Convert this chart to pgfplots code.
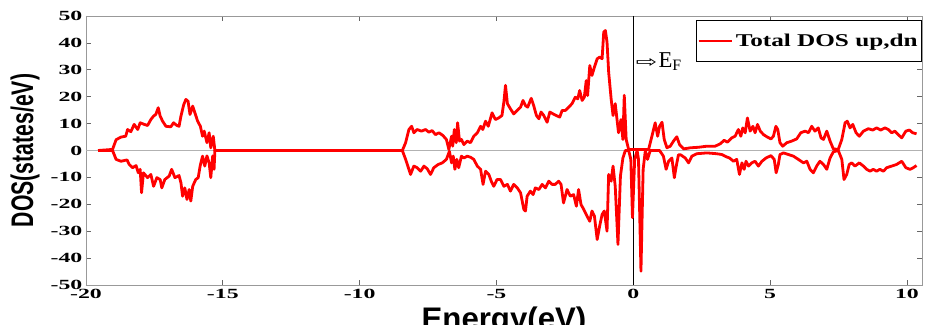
\documentclass[border=0pt]{standalone}
\usepackage{pgfplots}
\pgfplotsset{compat=1.18}
\usepackage{fontspec}
\usepackage{graphicx}
\setmainfont{Liberation Serif}
\setsansfont{Liberation Sans}
\newfontfamily\dejavu{DejaVu Sans}
\newcommand{\tl}[1]{\scalebox{1.7}[1]{\fontsize{10.5}{10.5}\selectfont\bfseries #1}}

\pgfplotstableread{
x y
-19.56 0
-19.03 0.4
-18.9 4
-18.72 5
-18.55 5.3
-18.48 7.8
-18.36 7
-18.24 9.7
-18.11 7.8
-18.02 10.3
-17.87 9.7
-17.75 9.3
-17.63 11.5
-17.53 12.8
-17.45 13.4
-17.36 15.9
-17.29 12.8
-17.2 10.9
-17.08 9.0
-16.9 8.8
-16.8 10.3
-16.68 9.3
-16.6 9
-16.53 12.8
-16.43 17
-16.35 19
-16.27 18.3
-16.2 13.4
-16.1 16.5
-16.02 14
-15.92 10.9
-15.82 9
-15.74 5.3
-15.68 7.2
-15.58 2.9
-15.5 6.6
-15.44 1
-15.35 5.3
-15.29 0
-8.44 0
-8.32 2.9
-8.2 7.8
-8.1 9
-8.02 6.6
-7.9 7.8
-7.74 7.2
-7.59 7.8
-7.47 6.8
-7.35 7.4
-7.23 5.9
-7.1 6.6
-6.96 5.6
-6.83 4.1
-6.74 0.4
-6.64 5.3
-6.6 1.6
-6.54 7.8
-6.47 2.9
-6.42 10.3
-6.35 3.5
-6.28 4.1
-6.19 2.2
-6.07 3.5
-5.95 2.9
-5.83 5.3
-5.7 6.6
-5.58 9
-5.5 7.8
-5.4 10.9
-5.3 9
-5.16 14
-5.04 11.5
-4.92 12.1
-4.8 13
-4.73 18
-4.67 24.2
-4.6 17.4
-4.49 15.5
-4.37 13.6
-4.24 14.9
-4.12 16.1
-4.03 18.6
-3.94 16.7
-3.86 16.1
-3.73 19.4
-3.64 16.7
-3.54 13
-3.45 11.8
-3.37 14.3
-3.27 13
-3.15 10.5
-3.05 14.3
-2.93 13.6
-2.81 13
-2.69 12.4
-2.6 14.9
-2.48 14.9
-2.36 16.1
-2.24 17.4
-2.12 19.8
-2.03 19.2
-1.96 22.3
-1.87 18.6
-1.79 19.8
-1.72 26
-1.67 20.4
-1.59 31.6
-1.51 27.9
-1.42 31
-1.32 34.1
-1.23 34.7
-1.14 34.1
-1.08 44
-1.02 44.6
-0.96 40.3
-0.9 29.1
-0.81 19.2
-0.74 13
-0.66 17.4
-0.6 12
-0.54 6.6
-0.45 11.5
-0.38 4.1
-0.33 20.5
-0.26 4.1
-0.17 0.4
0.56 0.4
0.68 5.3
0.8 10.3
0.89 5.3
0.96 9
1.05 10.5
1.13 4.1
1.23 1
1.35 1.6
1.47 3.5
1.59 5.1
1.69 2.2
1.84 0.6
2.08 1
2.38 1.2
2.69 1.6
2.99 1.6
3.18 2.5
3.32 3.8
3.44 3.1
3.6 4.7
3.72 5.3
3.84 7.8
3.93 5.3
4.0 8.4
4.09 6.6
4.17 12.1
4.27 7.2
4.37 9
4.45 6.6
4.54 9.7
4.64 7.2
4.76 5.9
4.88 5.1
5.03 4.3
5.12 5.3
5.21 9
5.28 7.8
5.36 2.9
5.46 1.6
5.61 2.9
5.79 3.5
5.97 4.3
6.12 6.6
6.28 7.2
6.4 6.6
6.52 9
6.64 7.2
6.76 8.4
6.86 4.7
6.95 4.1
7.07 7.2
7.19 3.5
7.31 0.6
7.49 0.4
7.62 4.1
7.74 10.3
7.82 10.9
7.92 8.4
8.02 9.7
8.14 6.6
8.26 5.3
8.41 7.2
8.59 8.1
8.75 7.6
8.89 8.4
9.04 7.6
9.2 8.4
9.32 7.8
9.44 6.6
9.56 7.2
9.68 5.9
9.81 4.7
9.96 7.2
10.09 7.6
10.21 6.6
10.35 6.2
}\dosup

\pgfplotstableread{
x y
-19.56 0
-19.03 0
-18.9 -3.3
-18.72 -4
-18.5 -3.5
-18.42 -5.2
-18.3 -6.4
-18.17 -5.6
-18.09 -8.3
-18.02 -7
-17.97 -15.7
-17.9 -8.3
-17.75 -10.1
-17.63 -8.9
-17.53 -13.3
-17.41 -10.1
-17.29 -10.8
-17.23 -13.9
-17.12 -10.8
-16.96 -9.5
-16.87 -7
-16.75 -10.1
-16.6 -9.3
-16.53 -12
-16.47 -17
-16.39 -13.9
-16.31 -18.2
-16.23 -14.5
-16.17 -18.8
-16.1 -13.3
-15.99 -10.8
-15.9 -10.1
-15.83 -5.8
-15.74 -2.1
-15.66 -5.8
-15.58 -2
-15.5 -4.6
-15.44 -10.1
-15.37 -2
-15.32 -7
-15.29 0
-8.44 0
-8.32 -3.3
-8.2 -7
-8.14 -8.9
-8.02 -5.8
-7.9 -6.4
-7.77 -7.7
-7.65 -5.8
-7.53 -6.8
-7.41 -8.9
-7.29 -6.4
-7.13 -5.2
-6.98 -4.6
-6.83 -3.3
-6.72 -0.3
-6.64 -4.6
-6.58 -2.1
-6.52 -7
-6.45 -3.3
-6.38 -6.4
-6.28 -2.1
-6.19 -2.8
-6.07 -2.1
-5.95 -2.5
-5.83 -3.3
-5.7 -5.8
-5.58 -7
-5.49 -12.6
-5.4 -7.7
-5.28 -8.9
-5.19 -11.4
-5.1 -13.3
-4.98 -10.8
-4.85 -10.8
-4.73 -13.3
-4.6 -12.6
-4.49 -15.1
-4.37 -12.6
-4.24 -13.9
-4.12 -15.7
-4.0 -21.9
-3.94 -22.5
-3.88 -17
-3.76 -15.1
-3.66 -16.4
-3.58 -13.9
-3.45 -14.5
-3.33 -12.6
-3.21 -13.9
-3.09 -11.4
-2.97 -12.6
-2.85 -12.6
-2.73 -11.4
-2.64 -12.6
-2.55 -19.5
-2.42 -14.5
-2.3 -17
-2.18 -16.4
-2.08 -20.7
-2.0 -14.5
-1.91 -20.1
-1.81 -21.9
-1.69 -24.4
-1.59 -26.3
-1.51 -22.5
-1.42 -24.4
-1.32 -33.1
-1.23 -28.1
-1.14 -23.8
-1.06 -22.5
-0.96 -30
-0.9 -8.9
-0.81 -11.4
-0.74 -5.8
-0.66 -13.3
-0.56 -34.9
-0.47 -9.5
-0.38 -2.8
-0.29 0
-0.17 0
-0.09 -3.3
-0.03 -25
0.05 -3.3
0.14 0
0.19 -3.3
0.28 -44.9
0.36 -7
0.44 0
0.52 -3.3
0.62 0
0.96 0
1.1 -2.1
1.2 -7
1.29 -4
1.41 -2.8
1.5 -10.1
1.57 -5.8
1.65 -1.6
1.73 -1.6
1.9 -2.8
2.02 -4.6
2.14 -2.1
2.32 -1.2
2.69 -0.9
3.05 -1.2
3.24 -1.5
3.39 -2.3
3.52 -2.8
3.66 -4
3.78 -3.3
3.88 -8.9
3.97 -4.6
4.05 -7
4.12 -4
4.21 -5.8
4.33 -4.6
4.45 -4
4.57 -5.8
4.7 -4
4.85 -2.8
5.03 -1.9
5.15 -3.3
5.22 -8.3
5.3 -5.2
5.36 -1.5
5.49 -0.9
5.67 -1.5
5.85 -2.1
6.03 -3.3
6.22 -4.6
6.34 -4
6.46 -7
6.58 -8.3
6.7 -5.8
6.82 -4
6.95 -5.2
7.07 -7
7.19 -2.8
7.31 -0.5
7.49 0
7.62 -3.3
7.7 -10.8
7.8 -8.9
7.89 -5.2
7.98 -4.6
8.1 -5.8
8.26 -4.6
8.41 -5.8
8.53 -7
8.65 -7.7
8.77 -7
8.89 -7.7
9.01 -7
9.14 -7.7
9.26 -6.4
9.44 -5.8
9.62 -5.2
9.81 -4
9.96 -6.4
10.11 -7
10.23 -6.4
10.35 -5.6
}\dosdn

\begin{document}
\begin{tikzpicture}
\begin{axis}[
  at={(0,0)}, anchor=south west,
  scale only axis, width=627pt, height=201.75pt,
  xmin=-20, xmax=10.55, ymin=-50, ymax=50,
  xtick={-20,-15,-10,-5,0,5,10},
  xticklabels={\tl{-20},\tl{-15},\tl{-10},\tl{-5},\tl{0},\tl{5},\tl{10}},
  ytick={-50,-40,-30,-20,-10,0,10,20,30,40,50},
  yticklabels={\tl{-50},\tl{-40},\tl{-30},\tl{-20},\tl{-10},\tl{0},\tl{10},\tl{20},\tl{30},\tl{40},\tl{50}},
  tick align=inside, major tick length=3.75pt,
  tick style={black!60, line width=0.5pt},
  axis line style={black!40, line width=0.7pt},
  xticklabel style={inner sep=1pt, yshift=-2pt},
  yticklabel style={inner sep=1pt, xshift=-1.5pt},
  every axis x label/.style={at={(rel axis cs:0.5,0)}, anchor=north, yshift=-16pt, inner sep=0pt},
  every axis y label/.style={at={(rel axis cs:0,0.5)}, anchor=center, rotate=90, yshift=45.75pt, inner sep=0pt},
  xlabel={\fontsize{23.4}{24}\selectfont\sffamily\bfseries Energy(eV)},
  ylabel={\scalebox{0.68}[1]{\fontsize{23.4}{24}\selectfont\sffamily\bfseries DOS(states/eV)}},
  legend style={at={(rel axis cs:1,0.985)}, anchor=north east, draw=black, line width=0.5pt,
    inner xsep=1pt, inner ysep=8pt, font=\fontsize{13.5}{14}\selectfont\bfseries},
  legend cell align=left,
  legend image code/.code={\draw[red, line width=1.8pt] (0pt,0pt) -- (25pt,0pt);},
]
\addplot[black!30, line width=1pt, forget plot] coordinates {(-20,0) (10.55,0)};
\addplot[black, line width=0.5pt, forget plot] coordinates {(0,-50) (0,50)};
\addplot[red, line width=2.1pt, line join=round] table[x=x,y=y] {\dosup};
\addlegendentry{\scalebox{1.4}[1]{Total DOS up,dn}}
\addplot[red, line width=2.1pt, line join=round, forget plot] table[x=x,y=y] {\dosdn};
\node[anchor=west, inner sep=0pt] at (axis cs:0.08,33)
  {\scalebox{1.6}[1]{\dejavu\fontsize{12}{12}\selectfont ⇨}\kern1pt{\fontsize{17}{17}\selectfont E\textsubscript{F}}};
\end{axis}
\pgfresetboundingbox
\path (-64.5pt,-30pt) rectangle (630pt,213.75pt);
\end{tikzpicture}
\end{document}
